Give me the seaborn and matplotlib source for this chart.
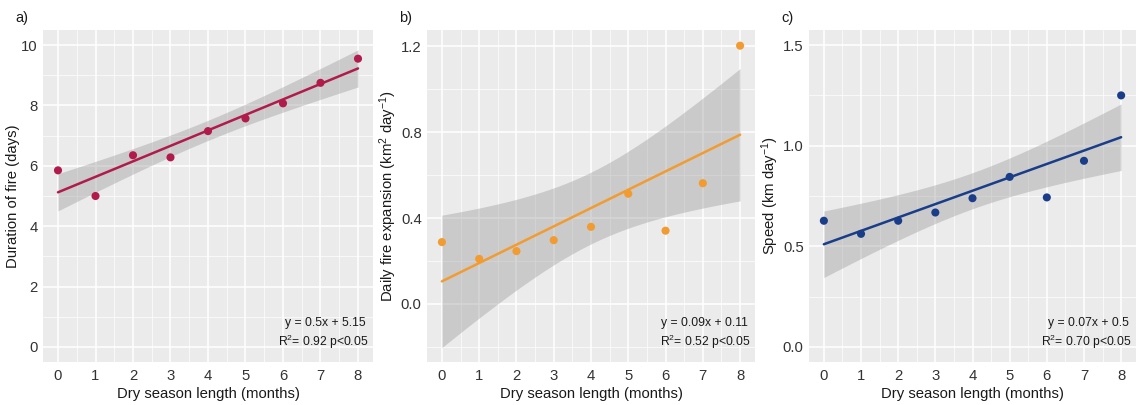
import numpy as np
import pandas as pd
import matplotlib
matplotlib.use("Agg")
import matplotlib.pyplot as plt
from matplotlib.ticker import MultipleLocator
import seaborn as sns

# ---- data ----
months = [0, 1, 2, 3, 4, 5, 6, 7, 8]
duration = [5.85, 5.0, 6.35, 6.28, 7.15, 7.57, 8.07, 8.75, 9.55]
expansion = [0.288, 0.21, 0.246, 0.297, 0.359, 0.513, 0.341, 0.562, 1.202]
speed = [0.627, 0.562, 0.627, 0.668, 0.739, 0.845, 0.743, 0.925, 1.25]

panel_labels = ["a)", "b)", "c)"]
ylabels = ["Duration of fire (days)",
           r"Daily fire expansion (km$^{2}$ day$^{-1}$)",
           r"Speed (km day$^{-1}$)"]
xlabel = "Dry season length (months)"
equations = ["y = 0.5x + 5.15", "y = 0.09x + 0.11", "y = 0.07x + 0.5"]
stats = [r"R$^{2}$= 0.92 p<0.05", r"R$^{2}$= 0.52 p<0.05", r"R$^{2}$= 0.70 p<0.05"]
colors = ["#B01B4B", "#F29B30", "#1A3D8A"]
ylims = [(-0.5, 10.5), (-0.27, 1.275), (-0.075, 1.575)]
yticks = [[0, 2, 4, 6, 8, 10], [0.0, 0.4, 0.8, 1.2], [0.0, 0.5, 1.0, 1.5]]
yformat = ["{:.0f}", "{:.1f}", "{:.1f}"]
series = [duration, expansion, speed]

sns.set_theme(style="darkgrid")
plt.rcParams["font.family"] = ["Liberation Sans", "DejaVu Sans"]
plt.rcParams["mathtext.fontset"] = "custom"
plt.rcParams["mathtext.rm"] = "Liberation Sans"
plt.rcParams["mathtext.it"] = "Liberation Sans:italic"
plt.rcParams["mathtext.bf"] = "Liberation Sans:bold"

fig = plt.figure(figsize=(11.37, 4.05), dpi=100)
lefts = [43, 427, 809]
rights = [373, 755, 1136]
top_px, bot_px = 30, 362
W, H = 1137, 405

T975 = 2.3646  # t quantile, df = 7

for i in range(3):
    ax = fig.add_axes([lefts[i] / W, 1 - bot_px / H,
                       (rights[i] - lefts[i]) / W, (bot_px - top_px) / H])
    df = pd.DataFrame({"x": months, "y": series[i]})
    x = np.array(months, float)
    y = np.array(series[i], float)
    n = len(x)
    b1, b0 = np.polyfit(x, y, 1)
    resid = y - (b0 + b1 * x)
    s = np.sqrt(np.sum(resid ** 2) / (n - 2))
    sxx = np.sum((x - x.mean()) ** 2)
    xg = np.linspace(x.min(), x.max(), 100)
    yg = b0 + b1 * xg
    se = s * np.sqrt(1 / n + (xg - x.mean()) ** 2 / sxx)
    ax.fill_between(xg, yg - T975 * se, yg + T975 * se, color="#999999",
                    alpha=0.4, linewidth=0, zorder=2)
    sns.scatterplot(data=df, x="x", y="y", ax=ax, color=colors[i], s=34,
                    edgecolor="none", zorder=3)
    sns.regplot(data=df, x="x", y="y", ax=ax, ci=None, scatter=False,
                color=colors[i], line_kws={"linewidth": 1.8, "zorder": 4})

    ax.set_facecolor("#EBEBEB")
    ax.set_xlim(-0.4, 8.4)
    ax.set_ylim(*ylims[i])
    ax.xaxis.set_major_locator(MultipleLocator(1))
    ax.xaxis.set_minor_locator(MultipleLocator(0.5))
    step = yticks[i][1] - yticks[i][0]
    ax.yaxis.set_minor_locator(MultipleLocator(step / 2))
    ax.set_yticks(yticks[i])
    ax.set_yticklabels([yformat[i].format(v) for v in yticks[i]])
    ax.grid(which="major", color="white", linewidth=1.1)
    ax.grid(which="minor", color="white", linewidth=0.5)
    ax.set_axisbelow(True)
    for sp in ax.spines.values():
        sp.set_visible(False)
    ax.tick_params(axis="both", which="major", length=3, width=0.8,
                   color="#333333", labelsize=10.7, labelcolor="#333333", pad=2)
    ax.tick_params(axis="y", which="major", pad=0.8)
    ax.tick_params(axis="both", which="minor", length=0)
    ax.set_xlabel(xlabel, fontsize=10.7, color="#1a1a1a", labelpad=3)
    ax.set_ylabel(ylabels[i], fontsize=10.7, color="#1a1a1a", labelpad=1)

    ax.text(0.977, 0.118, equations[i], transform=ax.transAxes, ha="right",
            va="center", fontsize=8.7, color="#1a1a1a")
    ax.text(0.987, 0.060, stats[i], transform=ax.transAxes, ha="right",
            va="center", fontsize=8.7, color="#1a1a1a")
    fig.text((lefts[i] - 28) / W, 1 - 18 / H, panel_labels[i], fontsize=10.5,
             ha="left", va="center", color="#1a1a1a")

fig.savefig("out.png", dpi=100, facecolor="white")
